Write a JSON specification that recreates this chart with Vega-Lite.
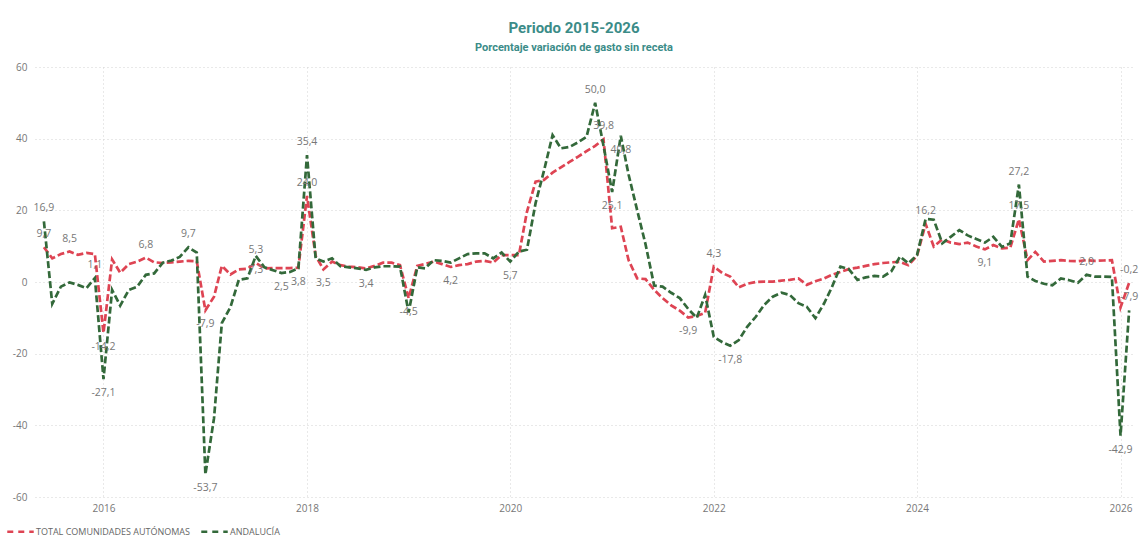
{
  "$schema": "https://vega.github.io/schema/vega-lite/v6.json",
  "width": 1100,
  "height": 430,
  "autosize": {"type": "none"},
  "padding": {"left": 35, "top": 67, "right": 5, "bottom": 44},
  "background": "white",
  "title": {
    "text": "Periodo 2015-2026",
    "subtitle": "Porcentaje variación de gasto sin receta",
    "anchor": "middle",
    "dx": -11,
    "offset": 9,
    "font": "Roboto",
    "fontSize": 15,
    "fontWeight": "bold",
    "color": "#3b8c88",
    "subtitleFont": "Roboto",
    "subtitleFontSize": 11,
    "subtitleFontWeight": "bold",
    "subtitleColor": "#3b8c88",
    "subtitlePadding": 6
  },
  "config": {
    "locale": {"number": {"decimal": ",", "thousands": ".", "grouping": [3], "currency": ["", " €"], "minus": "-"}},
    "view": {"stroke": null},
    "axis": {
      "labelFont": "Open Sans",
      "labelFontSize": 10,
      "labelColor": "#777777",
      "domain": false,
      "ticks": false,
      "grid": true,
      "gridColor": "#d2d2d2",
      "gridDash": [1, 3],
      "gridWidth": 1,
      "title": null
    }
  },
  "data": {
    "values": [
      {"mes": "2015-06-01", "total": 9.7, "andalucia": 16.9},
      {"mes": "2015-07-01", "total": 6.6, "andalucia": -6.1},
      {"mes": "2015-08-01", "total": 7.8, "andalucia": -1.3},
      {"mes": "2015-09-01", "total": 8.5, "andalucia": -0.1},
      {"mes": "2015-10-01", "total": 7.6, "andalucia": -0.8},
      {"mes": "2015-11-01", "total": 8.1, "andalucia": -1.7},
      {"mes": "2015-12-01", "total": 7.8, "andalucia": 1.1},
      {"mes": "2016-01-01", "total": -14.2, "andalucia": -27.1},
      {"mes": "2016-02-01", "total": 6.3, "andalucia": -2.2},
      {"mes": "2016-03-01", "total": 2.6, "andalucia": -6.6},
      {"mes": "2016-04-01", "total": 5.0, "andalucia": -2.2},
      {"mes": "2016-05-01", "total": 5.7, "andalucia": -1.3},
      {"mes": "2016-06-01", "total": 6.8, "andalucia": 2.0},
      {"mes": "2016-07-01", "total": 5.5, "andalucia": 2.4},
      {"mes": "2016-08-01", "total": 5.3, "andalucia": 5.4},
      {"mes": "2016-09-01", "total": 5.5, "andalucia": 6.0},
      {"mes": "2016-10-01", "total": 5.7, "andalucia": 7.0},
      {"mes": "2016-11-01", "total": 5.9, "andalucia": 9.7},
      {"mes": "2016-12-01", "total": 5.8, "andalucia": 8.2},
      {"mes": "2017-01-01", "total": -7.9, "andalucia": -53.7},
      {"mes": "2017-02-01", "total": -4.1, "andalucia": -38.0},
      {"mes": "2017-03-01", "total": 4.5, "andalucia": -11.5},
      {"mes": "2017-04-01", "total": 2.1, "andalucia": -7.0},
      {"mes": "2017-05-01", "total": 3.5, "andalucia": 0.6},
      {"mes": "2017-06-01", "total": 3.7, "andalucia": 1.0},
      {"mes": "2017-07-01", "total": 5.3, "andalucia": 7.3},
      {"mes": "2017-08-01", "total": 3.8, "andalucia": 4.1},
      {"mes": "2017-09-01", "total": 3.9, "andalucia": 3.3},
      {"mes": "2017-10-01", "total": 3.9, "andalucia": 2.5},
      {"mes": "2017-11-01", "total": 3.9, "andalucia": 2.8},
      {"mes": "2017-12-01", "total": 4.0, "andalucia": 3.8},
      {"mes": "2018-01-01", "total": 24.0, "andalucia": 35.4},
      {"mes": "2018-02-01", "total": 7.3, "andalucia": 6.6},
      {"mes": "2018-03-01", "total": 3.5, "andalucia": 5.7},
      {"mes": "2018-04-01", "total": 5.7, "andalucia": 6.6},
      {"mes": "2018-05-01", "total": 4.7, "andalucia": 4.4},
      {"mes": "2018-06-01", "total": 4.3, "andalucia": 4.1},
      {"mes": "2018-07-01", "total": 4.1, "andalucia": 3.8},
      {"mes": "2018-08-01", "total": 3.8, "andalucia": 3.4},
      {"mes": "2018-09-01", "total": 4.5, "andalucia": 4.1},
      {"mes": "2018-10-01", "total": 5.4, "andalucia": 4.4},
      {"mes": "2018-11-01", "total": 5.4, "andalucia": 4.4},
      {"mes": "2018-12-01", "total": 4.7, "andalucia": 4.3},
      {"mes": "2019-01-01", "total": -4.5, "andalucia": -8.5},
      {"mes": "2019-02-01", "total": 4.5, "andalucia": 4.1},
      {"mes": "2019-03-01", "total": 5.0, "andalucia": 3.8},
      {"mes": "2019-04-01", "total": 5.7, "andalucia": 6.1},
      {"mes": "2019-05-01", "total": 5.0, "andalucia": 5.9},
      {"mes": "2019-06-01", "total": 4.2, "andalucia": 5.4},
      {"mes": "2019-07-01", "total": 4.7, "andalucia": 6.6},
      {"mes": "2019-08-01", "total": 5.0, "andalucia": 7.8},
      {"mes": "2019-09-01", "total": 5.7, "andalucia": 8.0},
      {"mes": "2019-10-01", "total": 5.9, "andalucia": 8.0},
      {"mes": "2019-11-01", "total": 5.4, "andalucia": 6.6},
      {"mes": "2019-12-01", "total": 7.5, "andalucia": 8.2},
      {"mes": "2020-01-01", "total": 7.5, "andalucia": 5.7},
      {"mes": "2020-02-01", "total": 7.5, "andalucia": 8.5},
      {"mes": "2020-03-01", "total": 19.6, "andalucia": 9.0},
      {"mes": "2020-04-01", "total": 28.0, "andalucia": 22.0},
      {"mes": "2020-05-01", "total": 28.5, "andalucia": 31.0},
      {"mes": "2020-06-01", "total": 30.5, "andalucia": 41.0},
      {"mes": "2020-07-01", "total": 32.0, "andalucia": 37.3},
      {"mes": "2020-08-01", "total": 33.5, "andalucia": 37.7},
      {"mes": "2020-09-01", "total": 35.0, "andalucia": 39.0},
      {"mes": "2020-10-01", "total": 36.5, "andalucia": 40.5},
      {"mes": "2020-11-01", "total": 38.0, "andalucia": 50.0},
      {"mes": "2020-12-01", "total": 39.8, "andalucia": 38.0},
      {"mes": "2021-01-01", "total": 15.0, "andalucia": 25.1},
      {"mes": "2021-02-01", "total": 15.4, "andalucia": 40.8},
      {"mes": "2021-03-01", "total": 6.1, "andalucia": 30.0},
      {"mes": "2021-04-01", "total": 1.0, "andalucia": 20.0},
      {"mes": "2021-05-01", "total": 0.8, "andalucia": 10.5},
      {"mes": "2021-06-01", "total": -2.2, "andalucia": -1.0},
      {"mes": "2021-07-01", "total": -4.5, "andalucia": -1.3},
      {"mes": "2021-08-01", "total": -6.5, "andalucia": -3.0},
      {"mes": "2021-09-01", "total": -8.0, "andalucia": -4.5},
      {"mes": "2021-10-01", "total": -9.9, "andalucia": -7.5},
      {"mes": "2021-11-01", "total": -9.5, "andalucia": -10.0},
      {"mes": "2021-12-01", "total": -8.6, "andalucia": -3.6},
      {"mes": "2022-01-01", "total": 4.3, "andalucia": -15.3},
      {"mes": "2022-02-01", "total": 2.5, "andalucia": -16.8},
      {"mes": "2022-03-01", "total": 1.5, "andalucia": -17.8},
      {"mes": "2022-04-01", "total": -1.5, "andalucia": -16.2},
      {"mes": "2022-05-01", "total": -0.5, "andalucia": -12.5},
      {"mes": "2022-06-01", "total": 0.0, "andalucia": -9.7},
      {"mes": "2022-07-01", "total": 0.1, "andalucia": -6.4},
      {"mes": "2022-08-01", "total": 0.1, "andalucia": -4.1},
      {"mes": "2022-09-01", "total": 0.4, "andalucia": -3.0},
      {"mes": "2022-10-01", "total": 0.6, "andalucia": -3.6},
      {"mes": "2022-11-01", "total": 1.0, "andalucia": -5.9},
      {"mes": "2022-12-01", "total": -0.8, "andalucia": -6.9},
      {"mes": "2023-01-01", "total": 0.2, "andalucia": -10.1},
      {"mes": "2023-02-01", "total": 1.0, "andalucia": -6.0},
      {"mes": "2023-03-01", "total": 2.0, "andalucia": -1.5},
      {"mes": "2023-04-01", "total": 2.8, "andalucia": 4.3},
      {"mes": "2023-05-01", "total": 3.6, "andalucia": 3.6},
      {"mes": "2023-06-01", "total": 4.0, "andalucia": 0.6},
      {"mes": "2023-07-01", "total": 4.5, "andalucia": 1.3},
      {"mes": "2023-08-01", "total": 5.0, "andalucia": 1.7},
      {"mes": "2023-09-01", "total": 5.3, "andalucia": 1.5},
      {"mes": "2023-10-01", "total": 5.5, "andalucia": 3.0},
      {"mes": "2023-11-01", "total": 5.6, "andalucia": 7.1},
      {"mes": "2023-12-01", "total": 4.7, "andalucia": 5.2},
      {"mes": "2024-01-01", "total": 7.3, "andalucia": 7.5},
      {"mes": "2024-02-01", "total": 16.2, "andalucia": 17.6},
      {"mes": "2024-03-01", "total": 9.9, "andalucia": 17.4},
      {"mes": "2024-04-01", "total": 11.9, "andalucia": 10.8},
      {"mes": "2024-05-01", "total": 11.0, "andalucia": 12.6},
      {"mes": "2024-06-01", "total": 10.6, "andalucia": 14.5},
      {"mes": "2024-07-01", "total": 11.0, "andalucia": 13.0},
      {"mes": "2024-08-01", "total": 9.9, "andalucia": 12.0},
      {"mes": "2024-09-01", "total": 9.1, "andalucia": 11.0},
      {"mes": "2024-10-01", "total": 10.3, "andalucia": 12.6},
      {"mes": "2024-11-01", "total": 9.4, "andalucia": 9.8},
      {"mes": "2024-12-01", "total": 9.6, "andalucia": 10.8},
      {"mes": "2025-01-01", "total": 17.5, "andalucia": 27.2},
      {"mes": "2025-02-01", "total": 6.1, "andalucia": 1.5},
      {"mes": "2025-03-01", "total": 8.4, "andalucia": 0.3},
      {"mes": "2025-04-01", "total": 5.7, "andalucia": -0.5},
      {"mes": "2025-05-01", "total": 5.9, "andalucia": -0.9},
      {"mes": "2025-06-01", "total": 6.1, "andalucia": 1.0},
      {"mes": "2025-07-01", "total": 5.9, "andalucia": 0.5},
      {"mes": "2025-08-01", "total": 5.8, "andalucia": -0.2},
      {"mes": "2025-09-01", "total": 6.1, "andalucia": 2.0},
      {"mes": "2025-10-01", "total": 5.9, "andalucia": 1.5},
      {"mes": "2025-11-01", "total": 6.0, "andalucia": 1.5},
      {"mes": "2025-12-01", "total": 6.1, "andalucia": 1.4},
      {"mes": "2026-01-01", "total": -7.1, "andalucia": -42.9},
      {"mes": "2026-02-01", "total": -0.2, "andalucia": -7.9}
    ]
  },
  "encoding": {
    "x": {
      "field": "mes",
      "type": "temporal",
      "scale": {
        "type": "utc",
        "domain": [
          {"year": 2015, "month": 4, "date": 30, "utc": true},
          {"year": 2026, "month": 2, "date": 22, "utc": true}
        ]
      },
      "axis": {
        "values": [
          {"year": 2016, "utc": true},
          {"year": 2018, "utc": true},
          {"year": 2020, "utc": true},
          {"year": 2022, "utc": true},
          {"year": 2024, "utc": true},
          {"year": 2026, "utc": true}
        ],
        "labelExpr": "utcFormat(datum.value, '%Y')",
        "labelFlush": false,
        "labelPadding": 6
      }
    }
  },
  "layer": [
    {
      "mark": {"type": "line", "strokeWidth": 2.7, "strokeDash": [7, 3]},
      "encoding": {
        "y": {
          "field": "total",
          "type": "quantitative",
          "scale": {"domain": [-60, 60], "nice": false},
          "axis": {"values": [-60, -40, -20, 0, 20, 40, 60], "labelPadding": 8}
        },
        "color": {
          "datum": "TOTAL COMUNIDADES AUTÓNOMAS",
          "type": "nominal",
          "scale": {
            "domain": ["TOTAL COMUNIDADES AUTÓNOMAS", "ANDALUCÍA"],
            "range": ["#de4453", "#33693a"]
          },
          "legend": {
            "title": null,
            "orient": "none",
            "legendX": -29,
            "legendY": 450,
            "direction": "horizontal",
            "symbolType": "stroke",
            "symbolDash": [6, 5],
            "symbolStrokeWidth": 2.5,
            "symbolSize": 700,
            "labelFont": "Open Sans",
            "labelFontSize": 9,
            "labelColor": "#666666",
            "labelOffset": 1,
            "columnPadding": 6
          }
        }
      }
    },
    {
      "mark": {"type": "line", "strokeWidth": 2.7, "strokeDash": [7, 3]},
      "encoding": {
        "y": {"field": "andalucia", "type": "quantitative"},
        "color": {"datum": "ANDALUCÍA", "type": "nominal"}
      }
    },
    {
      "transform": [{"filter": "indexof(['2015-06','2015-09','2016-06','2017-07','2018-01','2020-12','2022-01','2024-02','2025-01','2026-02'], utcFormat(datum.mes, '%Y-%m')) >= 0"}],
      "mark": {"type": "text", "dy": -13, "font": "Open Sans", "fontSize": 10.5, "color": "#777777"},
      "encoding": {
        "y": {"field": "total", "type": "quantitative"},
        "text": {"field": "total", "type": "quantitative", "format": ".1f"}
      }
    },
    {
      "transform": [{"filter": "indexof(['2016-01','2017-01','2018-03','2019-01','2019-06','2021-10','2024-09'], utcFormat(datum.mes, '%Y-%m')) >= 0"}],
      "mark": {"type": "text", "dy": 14, "font": "Open Sans", "fontSize": 10.5, "color": "#777777"},
      "encoding": {
        "y": {"field": "total", "type": "quantitative"},
        "text": {"field": "total", "type": "quantitative", "format": ".1f"}
      }
    },
    {
      "transform": [{"filter": "indexof(['2015-06','2015-12','2016-11','2018-01','2020-11','2025-01','2025-09','2026-02'], utcFormat(datum.mes, '%Y-%m')) >= 0"}],
      "mark": {"type": "text", "dy": -13, "font": "Open Sans", "fontSize": 10.5, "color": "#777777"},
      "encoding": {
        "y": {"field": "andalucia", "type": "quantitative"},
        "text": {"field": "andalucia", "type": "quantitative", "format": ".1f"}
      }
    },
    {
      "transform": [{"filter": "indexof(['2016-01','2017-01','2017-07','2017-10','2017-12','2018-08','2020-01','2021-01','2021-02','2022-03','2026-01'], utcFormat(datum.mes, '%Y-%m')) >= 0"}],
      "mark": {"type": "text", "dy": 14, "font": "Open Sans", "fontSize": 10.5, "color": "#777777"},
      "encoding": {
        "y": {"field": "andalucia", "type": "quantitative"},
        "text": {"field": "andalucia", "type": "quantitative", "format": ".1f"}
      }
    }
  ]
}
